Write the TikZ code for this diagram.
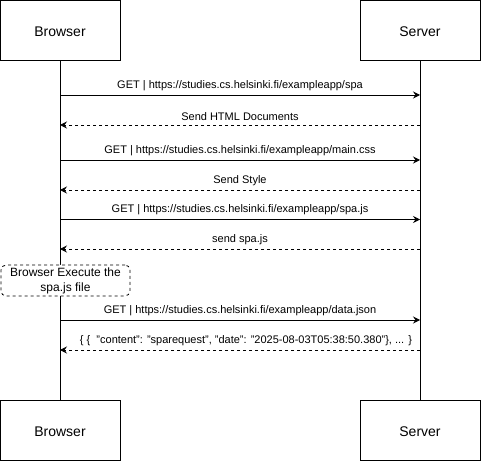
\documentclass[tikz,border=0pt]{standalone}
\usepackage{fontspec}
\setmainfont{Liberation Sans}
\usetikzlibrary{arrows.meta}
\begin{document}
\begin{tikzpicture}[x=1pt,y=-1pt,
  actor/.style={draw,line width=0.8pt,minimum width=120pt,minimum height=60pt,font=\fontsize{14}{16}\selectfont,inner sep=0pt,text height=13pt,text depth=0pt},
  msg/.style={line width=0.8pt,-{Stealth[length=7pt,width=7pt,inset=2.5pt]}},
  reply/.style={msg,dash pattern=on 3pt off 3pt},
  lbl/.style={font=\fontsize{11}{13}\selectfont,inner sep=0pt},
  note/.style={draw,dash pattern=on 3pt off 3pt,rounded corners=5pt,fill=white,line width=0.8pt,font=\fontsize{12}{15}\selectfont,align=center,minimum width=129pt,minimum height=31pt,inner sep=0pt}]
\useasboundingbox (0,0) rectangle (482,462);
\node[actor] (b1) at (60,30) {Browser};
\node[actor] (s1) at (420,30) {Server};
\node[actor] (b2) at (60,430) {Browser};
\node[actor] (s2) at (420,430) {Server};
\draw[line width=0.8pt] (b1.south) -- (b2.north);
\draw[line width=0.8pt] (s1.south) -- (s2.north);
\node[note] (n) at (65.5,280.5) {Browser Execute the\\spa.js file};
% messages
\foreach \y/\name in {95/m1,125/m2,160/m3,190/m4,219.5/m5,249/m6,320/m7,350/m8}{
  \coordinate (\name b) at (60,\y);
  \coordinate (\name s) at (420,\y);
}
\draw[msg] (m1b) -- node[lbl,above=4pt] {GET | https://studies.cs.helsinki.fi/exampleapp/spa} (m1s);
\draw[reply] (m2s) -- node[lbl,above=4pt] {Send HTML Documents} (m2b);
\draw[msg] (m3b) -- node[lbl,above=4pt] {GET | https://studies.cs.helsinki.fi/exampleapp/main.css} (m3s);
\draw[reply] (m4s) -- node[lbl,above=4pt] {Send Style} (m4b);
\draw[msg] (m5b) -- node[lbl,above=4pt] {GET | https://studies.cs.helsinki.fi/exampleapp/spa.js} (m5s);
\draw[reply] (m6s) -- node[lbl,above=4pt] {send spa.js} (m6b);
\draw[msg] (m7b) -- node[lbl,above=4pt] {GET | https://studies.cs.helsinki.fi/exampleapp/data.json} (m7s);
\draw[reply] (m8s) -- node[lbl,above=4pt,xshift=6pt] {\{ \{\ \ "content": "sparequest", "date": "2025-08-03T05:38:50.380"\}, ... \}} (m8b);
\end{tikzpicture}
\end{document}
